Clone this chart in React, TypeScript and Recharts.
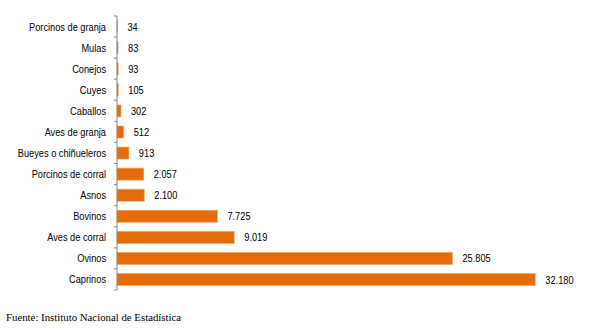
import React from 'react';
import { BarChart, Bar, XAxis, YAxis, LabelList } from 'recharts';

const categories = [
  'Porcinos de granja',
  'Mulas',
  'Conejos',
  'Cuyes',
  'Caballos',
  'Aves de granja',
  'Bueyes o chiñueleros',
  'Porcinos de  corral',
  'Asnos',
  'Bovinos',
  'Aves de corral',
  'Ovinos',
  'Caprinos',
];

const values = [34, 83, 93, 105, 302, 512, 913, 2057, 2100, 7725, 9019, 25805, 32180];

const data = categories.map((name, i) => ({ name, value: values[i] }));

const CHART_W = 590;
const CHART_H = 300;
const MARGIN = { top: 16, right: 18, bottom: 10, left: 0 };
const BAND = (CHART_H - MARGIN.top - MARGIN.bottom) / data.length;
const FONT = '"Liberation Sans", Arial, sans-serif';
const NARROW = 0.84; // squeeze to look like Arial Narrow

const fmt = (v: number) => v.toString().replace(/\B(?=(\d{3})+(?!\d))/g, '.');

const CategoryTick = (props: any) => {
  const { x, y, payload, index } = props;
  const axisX = x + 11;
  return (
    <g>
      <line x1={axisX - 3} x2={axisX} y1={y - BAND / 2} y2={y - BAND / 2} stroke="#868686" />
      {index === data.length - 1 && (
        <line x1={axisX - 3} x2={axisX} y1={y + BAND / 2} y2={y + BAND / 2} stroke="#868686" />
      )}
      <g transform={`translate(${x},${y}) scale(${NARROW},1)`}>
        <text x={0} y={0} dy={4} textAnchor="end" fontSize={11} fill="#000" fontFamily={FONT}>
          {payload.value}
        </text>
      </g>
    </g>
  );
};

const ValueLabel = (props: any) => {
  const { x, y, width, height, value } = props;
  const tx = Number(x) + Number(width) + 10;
  const ty = Number(y) + Number(height) / 2;
  return (
    <g transform={`translate(${tx},${ty}) scale(${NARROW},1)`}>
      <text x={0} y={0} dy={4} textAnchor="start" fontSize={11} fill="#000" fontFamily={FONT}>
        {fmt(Number(value))}
      </text>
    </g>
  );
};

export default function App() {
  return (
    <div style={{ position: 'fixed', left: 0, top: 0, width: 590, height: 329, background: '#fff' }}>
      <BarChart
        width={CHART_W}
        height={CHART_H}
        data={data}
        layout="vertical"
        margin={MARGIN}
        barCategoryGap="22%"
      >
        <XAxis type="number" domain={[0, 35000]} hide />
        <YAxis
          type="category"
          dataKey="name"
          width={117}
          tickSize={3}
          tickMargin={8}
          tickLine={false}
          axisLine={{ stroke: '#868686' }}
          tick={<CategoryTick />}
          interval={0}
        />
        <Bar dataKey="value" fill="#E46C0A" stroke="#F0A060" strokeWidth={0.6} isAnimationActive={false}>
          <LabelList dataKey="value" content={<ValueLabel />} />
        </Bar>
      </BarChart>
      <div
        style={{
          position: 'absolute',
          left: 6,
          top: 311,
          fontFamily: '"Liberation Serif", "Times New Roman", serif',
          fontSize: 10.8,
          color: '#000',
          whiteSpace: 'nowrap',
        }}
      >
        Fuente: Instituto Nacional de Estadística
      </div>
    </div>
  );
}
